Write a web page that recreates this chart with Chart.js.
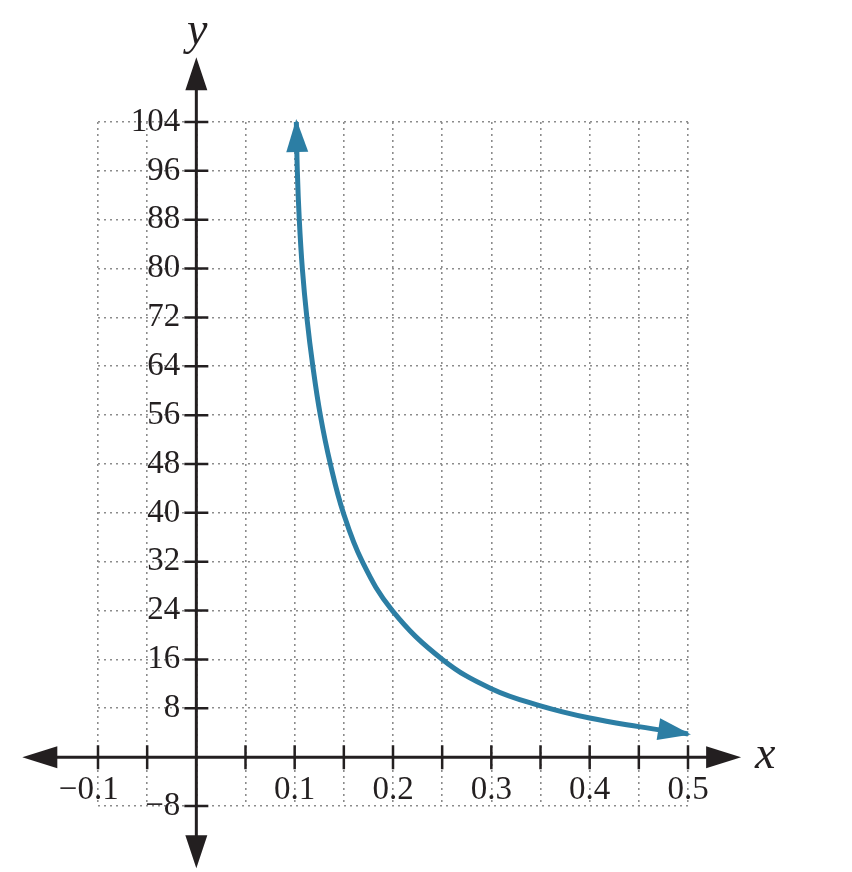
<!DOCTYPE html>
<html><head><meta charset="utf-8">
<script src="https://cdn.jsdelivr.net/npm/chart.js@4/dist/chart.umd.min.js"></script>
<style>html,body{margin:0;padding:0;background:#fff}#wrap{width:852px;height:872px}</style>
</head><body><div id="wrap"><canvas id="c" width="852" height="872"></canvas></div>
<script>
// Curve values
const curveX = [0.1017, 0.1027, 0.1047, 0.1078, 0.1124, 0.1185, 0.1261, 0.1363, 0.1495, 0.1688, 0.1993, 0.2502, 0.3, 0.35, 0.4, 0.45, 0.5];
const curveY = [104, 96, 88, 80, 72, 64, 56, 48, 40, 32, 24, 16, 11.2, 8.4, 6.4, 5.0, 3.8];

const xTickValues = [-0.1, 0.1, 0.2, 0.3, 0.4, 0.5];
const xTickLabels = ['\u22120.1', '0.1', '0.2', '0.3', '0.4', '0.5'];
const yTickValues = [-8, 8, 16, 24, 32, 40, 48, 56, 64, 72, 80, 88, 96, 104];
const yTickLabels = ['\u22128', '8', '16', '24', '32', '40', '48', '56', '64', '72', '80', '88', '96', '104'];

const xRange = [-0.1, 0.5];
const xStep = 0.05;
const yRange = [-8, 104];
const yStep = 8;
const xAxisExtent = [-0.177, 0.554];
const yAxisExtent = [-18.2, 114.6];

const AXIS = '#231f20';
const CURVE = 'rgb(44,126,164)';
const FONT = "'Liberation Serif', 'DejaVu Serif', serif";
const TICK_SIZE = 33;

function labelFor(values, labels, v) {
  for (let i = 0; i < values.length; i++) if (Math.abs(values[i] - v) < 1e-9) return labels[i];
  return '';
}

function tri(ctx, tx, ty, dx, dy, len, w) {
  const px = -dy, py = dx;
  ctx.beginPath();
  ctx.moveTo(tx, ty);
  ctx.lineTo(tx - dx * len + px * w / 2, ty - dy * len + py * w / 2);
  ctx.lineTo(tx - dx * len - px * w / 2, ty - dy * len - py * w / 2);
  ctx.closePath();
  ctx.fill();
}

// Shift tick labels of axes placed at a data value (Chart.js ignores padding for y there)
const labelShiftPlugin = {
  id: 'labelShift',
  afterUpdate(chart) {
    const ys = chart.scales.y, xs = chart.scales.x;
    if (ys && !ys.__patched && typeof ys._computeLabelItems === 'function') {
      const orig = ys._computeLabelItems;
      ys._computeLabelItems = function (ca) {
        const items = orig.call(this, ca);
        items.forEach(it => { if (it.options && it.options.translation) it.options.translation[0] -= 16; });
        return items;
      };
      ys.__patched = true; ys._labelItems = null;
    }
    if (xs && !xs.__patched && typeof xs._computeLabelItems === 'function') {
      const orig = xs._computeLabelItems;
      xs._computeLabelItems = function (ca) {
        const items = orig.call(this, ca);
        const ctx = chart.ctx;
        ctx.save();
        ctx.font = TICK_SIZE + 'px ' + FONT;
        const mw = ctx.measureText('\u2212').width;
        ctx.restore();
        items.forEach(it => {
          if (typeof it.label === 'string' && it.label.charAt(0) === '\u2212' && it.options && it.options.translation)
            it.options.translation[0] -= mw / 2;
        });
        return items;
      };
      xs.__patched = true; xs._labelItems = null;
    }
  }
};

const axesPlugin = {
  id: 'axesArrows',
  beforeDatasetsDraw(chart) {
    const ctx = chart.ctx, xs = chart.scales.x, ys = chart.scales.y;
    const x0 = xs.getPixelForValue(0), y0 = ys.getPixelForValue(0);
    const xl = xs.getPixelForValue(xAxisExtent[0]), xr = xs.getPixelForValue(xAxisExtent[1]);
    const yt = ys.getPixelForValue(yAxisExtent[1]), yb = ys.getPixelForValue(yAxisExtent[0]);
    ctx.save();
    ctx.strokeStyle = AXIS; ctx.fillStyle = AXIS; ctx.lineWidth = 3;
    ctx.beginPath();
    ctx.moveTo(xl + 20, y0); ctx.lineTo(xr - 20, y0);
    ctx.moveTo(x0, yt + 20); ctx.lineTo(x0, yb - 20);
    ctx.stroke();
    tri(ctx, xl, y0, -1, 0, 35, 22);
    tri(ctx, xr, y0, 1, 0, 35, 22);
    tri(ctx, x0, yt, 0, -1, 33, 22);
    tri(ctx, x0, yb, 0, 1, 33, 22);
    ctx.lineWidth = 2.5;
    ctx.beginPath();
    xs.ticks.forEach(t => {
      if (Math.abs(t.value) < 1e-9) return;
      const p = xs.getPixelForValue(t.value);
      ctx.moveTo(p, y0 - 12); ctx.lineTo(p, y0 + 12);
    });
    ys.ticks.forEach(t => {
      if (Math.abs(t.value) < 1e-9) return;
      const p = ys.getPixelForValue(t.value);
      ctx.moveTo(x0 - 12, p); ctx.lineTo(x0 + 12, p);
    });
    ctx.stroke();
    ctx.fillStyle = '#231f20';
    ctx.font = "italic 46px " + FONT;
    ctx.textAlign = 'center'; ctx.textBaseline = 'alphabetic';
    ctx.fillText('y', x0 + 1, 44);
    ctx.textAlign = 'left'; ctx.textBaseline = 'middle';
    ctx.fillText('x', xr + 14, y0 - 1);
    ctx.restore();
  },
  afterDatasetsDraw(chart) {
    const ctx = chart.ctx;
    const pts = chart.getDatasetMeta(0).data;
    ctx.save();
    ctx.fillStyle = CURVE;
    const ends = [[pts[0], pts[2]], [pts[pts.length - 1], pts[pts.length - 3]]];
    ends.forEach(([a, b]) => {
      let dx = a.x - b.x, dy = a.y - b.y;
      const L = Math.hypot(dx, dy); dx /= L; dy /= L;
      tri(ctx, a.x + dx * 3, a.y + dy * 3, dx, dy, 33, 22);
    });
    ctx.restore();
  }
};

new Chart(document.getElementById('c'), {
  type: 'line',
  data: {
    datasets: [{
      data: curveX.map((x, i) => ({ x: x, y: curveY[i] })),
      borderColor: CURVE,
      borderWidth: 5,
      pointRadius: 0,
      tension: 0.4,
      fill: false,
      clip: false
    }]
  },
  options: {
    responsive: false,
    animation: false,
    devicePixelRatio: 1,
    layout: { padding: { left: 98, right: 164, top: 122, bottom: 66 } },
    plugins: { legend: { display: false }, tooltip: { enabled: false } },
    scales: {
      x: {
        type: 'linear',
        min: xRange[0], max: xRange[1],
        position: { y: 0 },
        grid: { color: '#8c8c8c', lineWidth: 1.6, drawTicks: false },
        border: { display: false, dash: [2, 4] },
        ticks: {
          stepSize: xStep, autoSkip: false, maxRotation: 0, padding: 13,
          color: '#231f20', font: { family: FONT, size: TICK_SIZE },
          callback: v => labelFor(xTickValues, xTickLabels, v)
        }
      },
      y: {
        type: 'linear',
        min: yRange[0], max: yRange[1],
        position: { x: 0 },
        grid: { color: '#8c8c8c', lineWidth: 1.6, drawTicks: false },
        border: { display: false, dash: [2, 4] },
        ticks: {
          stepSize: yStep, autoSkip: false, padding: 16,
          color: '#231f20', font: { family: FONT, size: TICK_SIZE },
          callback: v => labelFor(yTickValues, yTickLabels, v)
        }
      }
    }
  },
  plugins: [labelShiftPlugin, axesPlugin]
});
</script>
</body></html>
